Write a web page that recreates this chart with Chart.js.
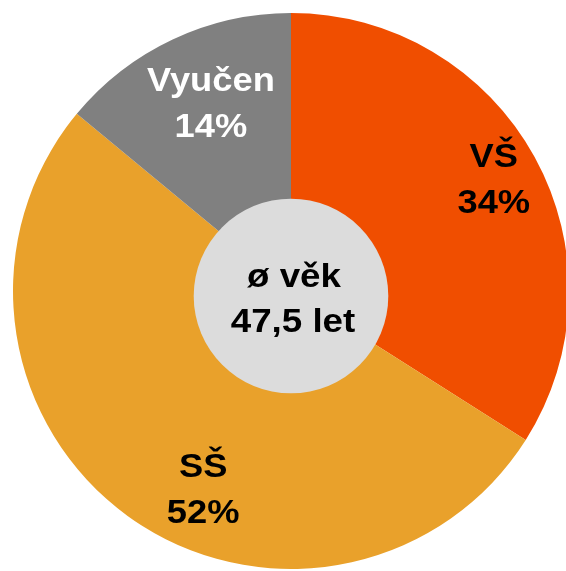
<!DOCTYPE html>
<html>
<head>
<meta charset="utf-8">
<script src="https://cdn.jsdelivr.net/npm/chart.js@4"></script>
<style>
  html, body { margin: 0; padding: 0; background: #fff; overflow: hidden; }
  .chart-container { position: relative; width: 572px; height: 571px; }
</style>
</head>
<body>
<div class="chart-container"><canvas id="vzdelani"></canvas></div>
<script>
// data
const labels = ['VŠ', 'SŠ', 'Vyučen'];
const shares = [34, 52, 14];
const colors = ['#F04E00', '#E9A12B', '#808080'];
const labelColors = ['#000000', '#000000', '#ffffff'];
const centerLines = ['ø věk', '47,5 let'];

// where the label sits: angle (deg, clockwise from top) and radius share
const labelAngle = [63.5, 202.8, 335.7];
const labelRadius = [0.815, 0.815, 0.70];

const FONT = '"Liberation Sans", Arial, sans-serif';

// text slightly wider than tall, like the original
function wideText(ctx, txt, x, y, sx) {
  ctx.save();
  ctx.translate(x, y);
  ctx.scale(sx, 1);
  ctx.fillText(txt, 0, 0);
  ctx.restore();
}

const overlay = {
  id: 'overlay',
  afterDatasetsDraw(chart) {
    const ctx = chart.ctx;
    const arcs = chart.getDatasetMeta(0).data;
    const cx = arcs[0].x, cy = arcs[0].y, R = arcs[0].outerRadius;

    // středový kruh
    ctx.save();
    ctx.beginPath();
    ctx.arc(cx, cy + 5, R * 0.35, 0, Math.PI * 2);
    ctx.fillStyle = '#DCDCDC';
    ctx.fill();

    ctx.textAlign = 'center';
    ctx.textBaseline = 'alphabetic';
    ctx.font = 'bold 34px ' + FONT;
    ctx.fillStyle = '#000';
    wideText(ctx, centerLines[0], cx + 3, cy - 4, 1.08);
    wideText(ctx, centerLines[1], cx + 2, cy + 41, 1.08);

    // popisky výsečí
    ctx.font = 'bold 33px ' + FONT;
    labels.forEach((lab, i) => {
      const a = labelAngle[i] * Math.PI / 180;
      const x = cx + Math.sin(a) * R * labelRadius[i];
      const y = cy - Math.cos(a) * R * labelRadius[i];
      ctx.fillStyle = labelColors[i];
      wideText(ctx, lab, x, y - 23, 1.1);
      wideText(ctx, shares[i] + '%', x, y + 23, 1.1);
    });
    ctx.restore();
  }
};

new Chart(document.getElementById('vzdelani').getContext('2d'), {
  type: 'pie',
  data: {
    labels: labels,
    datasets: [{
      data: shares,
      backgroundColor: colors,
      borderWidth: 0
    }]
  },
  options: {
    responsive: true,
    maintainAspectRatio: false,
    animation: false,
    layout: { padding: { left: 13, right: 3, top: 13, bottom: 2 } },
    plugins: {
      legend: { display: false },
      tooltip: { enabled: false }
    }
  },
  plugins: [overlay]
});
</script>
</body>
</html>
